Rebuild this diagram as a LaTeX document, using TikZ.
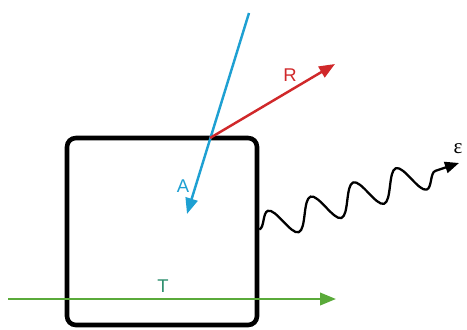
\documentclass[tikz,border=0pt]{standalone}
\usepackage{fontspec}
\setmainfont{Liberation Sans}
\newfontfamily\epsfont{Liberation Serif}
\usetikzlibrary{arrows.meta,decorations.pathmorphing}
\definecolor{rayblue}{HTML}{1EA0D2}
\definecolor{rayred}{HTML}{D0282A}
\definecolor{raygreen}{HTML}{5AAA3A}
\definecolor{labteal}{HTML}{2E8F6E}

\begin{document}
\begin{tikzpicture}[x=0.02cm, y=-0.02cm,
  ray/.style={line width=1.4pt, -{Triangle[length=9pt,width=7pt]}},
  wave/.style={line width=1.3pt, -{Triangle[length=8pt,width=6.5pt]},
               decorate, decoration={snake, amplitude=0.3cm,
               segment length=0.9cm, post length=0.15cm}},
  lbl/.style={font=\fontsize{10.5}{12}\selectfont, inner sep=1pt},
]
\useasboundingbox (0,0) rectangle (467,329);

% ---- body ----
\node[draw, line width=2.6pt, rounded corners=5pt,
      minimum width=3.8cm, minimum height=3.74cm] (box) at (162,231.5) {};

% ---- end points ----
\coordinate (src) at (249,13);
\coordinate (hit) at (210,138);
\coordinate (atip) at (187,214);
\coordinate (rtip) at (335,64);
\coordinate (tin) at (8,299);
\coordinate (tout) at (336,299);
\coordinate (etip) at (459,163);

% ---- rays ----
\draw[ray, rayblue] (src) -- (atip);
\draw[ray, rayred] (hit) -- (rtip);
\draw[ray, raygreen] (tin) -- (tout);
\draw[wave] ([yshift=0.04cm]box.east) -- (etip);

% ---- labels ----
\node[lbl, text=rayred] (rlab) at (290,75) {R};
\node[lbl, text=rayblue] (alab) at (183,186) {A};
\node[lbl, text=labteal] (tlab) at (163,286) {T};
\node[lbl, font=\epsfont\fontsize{12}{14}\selectfont] (elab) at (458,149) {ε};
\end{tikzpicture}
\end{document}
